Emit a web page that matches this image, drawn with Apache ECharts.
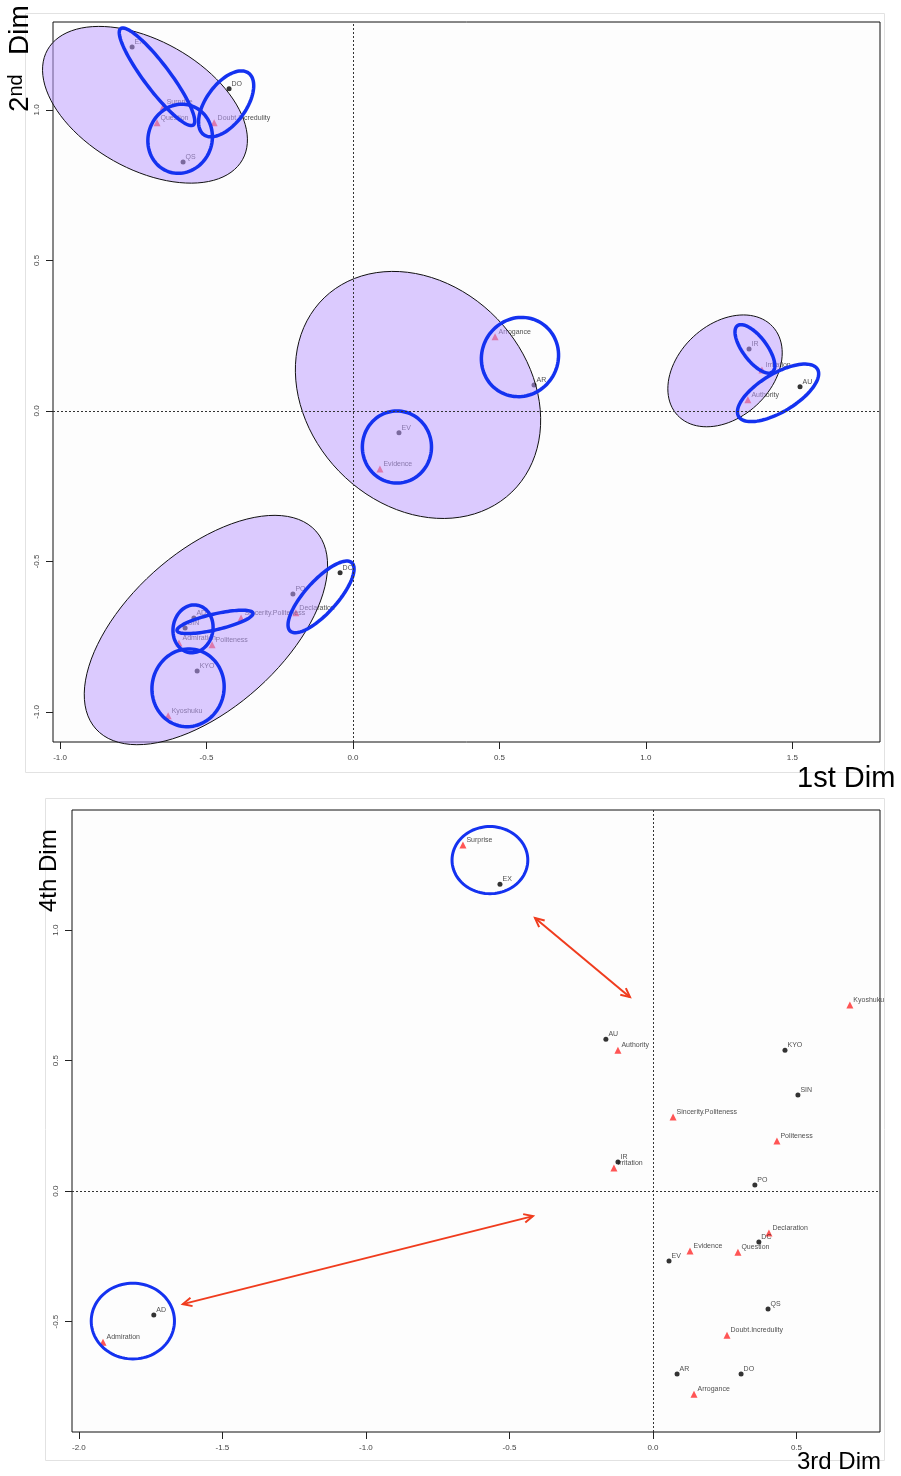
<!DOCTYPE html>
<html>
<head>
<meta charset="utf-8">
<script src="https://cdn.jsdelivr.net/npm/echarts@6/dist/echarts.min.js"></script>
<style>
html,body{margin:0;padding:0;background:#fff;}
#chart{width:901px;height:1476px;}
</style>
</head>
<body>
<div id="chart"></div>
<script>
// ---------- DATA ----------
const codes = ['EX','QS','DO','AR','EV','IR','AU','DC','PO','AD','SIN','KYO'];
const codeDim1 = [-0.754,-0.580,-0.423, 0.618, 0.157, 1.352, 1.526,-0.044,-0.205,-0.543,-0.573,-0.532];
const codeDim2 = [ 1.209, 0.827, 1.070, 0.086,-0.073, 0.206, 0.080,-0.538,-0.608,-0.688,-0.721,-0.864];
const codeDim3 = [-0.533, 0.401, 0.307, 0.084, 0.056,-0.122,-0.164, 0.369, 0.355,-1.739, 0.505, 0.460];
const codeDim4 = [ 1.176,-0.452,-0.701,-0.701,-0.268, 0.111, 0.582,-0.195, 0.023,-0.475, 0.368, 0.540];

const emotions = ['Surprise','Question','Doubt.Incredulity','Arrogance','Evidence','Irritation','Authority','Declaration','Sincerity.Politeness','Admiration','Politeness','Kyoshuku'];
const emoDim1 = [-0.648,-0.669,-0.474, 0.485, 0.092, 1.396, 1.348,-0.195,-0.382,-0.594,-0.481,-0.631];
const emoDim2 = [ 1.010, 0.957, 0.957, 0.246,-0.193, 0.136, 0.037,-0.671,-0.688,-0.771,-0.777,-1.013];
const emoDim3 = [-0.662, 0.296, 0.258, 0.143, 0.129,-0.136,-0.122, 0.404, 0.070,-1.916, 0.432, 0.686];
const emoDim4 = [ 1.326,-0.234,-0.552,-0.778,-0.230, 0.088, 0.540,-0.161, 0.284,-0.579, 0.192, 0.713];

const tickDim1 = [-1.0,-0.5,0.0,0.5,1.0,1.5];
const tickDim2 = [-1.0,-0.5,0.0,0.5,1.0];
const tickDim3 = [-2.0,-1.5,-1.0,-0.5,0.0,0.5];
const tickDim4 = [-0.5,0.0,0.5,1.0];

// cluster ellipses (Dim1/Dim2): [centerX, centerY, semiMajor, semiMinor, angleDeg]
const clusterEllipses = [
  [-0.710, 1.017, 0.382, 0.219, -29.4],
  [ 0.222, 0.053, 0.461, 0.375, -46],
  [ 1.270, 0.133, 0.222, 0.159, 43],
  [-0.502,-0.728, 0.505, 0.266, 42]
];
// pair ellipses (Dim1/Dim2)
const pairEllipses12 = [
  [-0.669, 1.110, 0.206, 0.044, -53],
  [-0.433, 1.020, 0.130, 0.068, 54],
  [-0.590, 0.904, 0.119, 0.109, 70],
  [ 0.570, 0.179, 0.137, 0.130, 60],
  [ 0.150,-0.120, 0.123, 0.118, 90],
  [ 1.372, 0.206, 0.099, 0.041, -53],
  [ 1.451, 0.060, 0.157, 0.065, 31],
  [-0.109,-0.618, 0.157, 0.055, 48],
  [-0.546,-0.724, 0.082, 0.068, 80],
  [-0.471,-0.701, 0.133, 0.027, 13],
  [-0.563,-0.920, 0.133, 0.123, 80]
];
// pair ellipses (Dim3/Dim4)
const pairEllipses34 = [
  [-0.568, 1.268, 0.132, 0.117, 0],
  [-1.812,-0.498, 0.145, 0.132, 0]
];
// double arrows (Dim3/Dim4): [x1, y1, x2, y2]
const arrows34 = [
  [-0.411, 1.046, -0.080, 0.743],
  [-1.638,-0.433, -0.418,-0.096]
];

// ---------- CHART ----------
const chart = echarts.init(document.getElementById('chart'), null, {renderer:'canvas'});
const FONT = 'Liberation Sans, Arial, sans-serif';

function pts(names, xs, ys){ return names.map((n,i)=>({name:n, value:[xs[i], ys[i]]})); }

function ellipseRenderer(fill, stroke, lw){
  return function(params, api){
    const c = api.coord([api.value(0), api.value(1)]);
    const s = api.size([1,1]);
    const a = api.value(2)*s[0], b = api.value(3)*s[0];
    const ang = api.value(4)*Math.PI/180;
    const points = [];
    for(let k=0;k<=96;k++){
      const t = k/96*2*Math.PI;
      const u = a*Math.cos(t), v = b*Math.sin(t);
      points.push([c[0] + u*Math.cos(ang) - v*Math.sin(ang), c[1] - (u*Math.sin(ang) + v*Math.cos(ang))]);
    }
    return {type:'polygon', shape:{points:points}, style:{fill:fill, stroke:stroke, lineWidth:lw}};
  };
}

function arrowRenderer(params, api){
  const p1 = api.coord([api.value(0), api.value(1)]);
  const p2 = api.coord([api.value(2), api.value(3)]);
  const ang = Math.atan2(p2[1]-p1[1], p2[0]-p1[0]);
  const L = 10, phi = Math.PI/7;
  function head(p, a){
    return [[p[0]+L*Math.cos(a+Math.PI-phi), p[1]+L*Math.sin(a+Math.PI-phi)], p,
            [p[0]+L*Math.cos(a+Math.PI+phi), p[1]+L*Math.sin(a+Math.PI+phi)]];
  }
  const st = {stroke:'#f03c1e', lineWidth:2, fill:null};
  return {type:'group', children:[
    {type:'line', shape:{x1:p1[0],y1:p1[1],x2:p2[0],y2:p2[1]}, style:st},
    {type:'polyline', shape:{points:head(p2, ang)}, style:st},
    {type:'polyline', shape:{points:head(p1, ang+Math.PI)}, style:st}
  ]};
}

const labelStyle = {show:true, formatter:'{b}', position:'right', distance:0, offset:[0,-5], fontSize:7, fontFamily:FONT, color:'#222'};
const zeroLines = {silent:true, symbol:'none', label:{show:false}, lineStyle:{color:'#333', type:[2,2], width:1}, data:[{xAxis:0},{yAxis:0}]};

function valueAxis(gi, min, max, ticks, isY){
  return {
    type:'value', gridIndex:gi, min:min, max:max,
    axisLine:{show:false, onZero:false}, splitLine:{show:false},
    axisTick:{show:true, inside:false, length:7, customValues:ticks, lineStyle:{color:'#222'}},
    axisLabel:{show:true, customValues:ticks, fontSize:8, fontFamily:FONT, color:'#444', margin:isY?12:12, rotate:isY?90:0,
      formatter:v=>v.toFixed(1)}
  };
}

const option = {
  animation:false,
  backgroundColor:'#fff',
  grid:[
    {left:53, top:22, width:827, height:720, show:true, borderColor:'#111', borderWidth:1, backgroundColor:'#fdfdfd'},
    {left:72, top:810, width:808, height:622, show:true, borderColor:'#111', borderWidth:1, backgroundColor:'#fdfdfd'}
  ],
  xAxis:[ valueAxis(0,-1.024,1.799,tickDim1,false), valueAxis(1,-2.024,0.791,tickDim3,false) ],
  yAxis:[ valueAxis(0,-1.100,1.292,tickDim2,true), valueAxis(1,-0.923,1.460,tickDim4,true) ],
  series:[
    {type:'scatter', xAxisIndex:0, yAxisIndex:0, z:2, symbol:'circle', symbolSize:5, itemStyle:{color:'#000'},
     data:pts(codes, codeDim1, codeDim2), label:labelStyle, markLine:zeroLines},
    {type:'scatter', xAxisIndex:0, yAxisIndex:0, z:2, symbol:'triangle', symbolSize:7, itemStyle:{color:'#ff2a2a'},
     data:pts(emotions, emoDim1, emoDim2), label:labelStyle},
    {type:'custom', xAxisIndex:0, yAxisIndex:0, z:3, clip:false, renderItem:ellipseRenderer('rgba(188,156,255,0.52)','#111',1),
     data:clusterEllipses, encode:{x:0,y:1}},
    {type:'custom', xAxisIndex:0, yAxisIndex:0, z:4, clip:false, renderItem:ellipseRenderer(null,'#1432f0',3.5),
     data:pairEllipses12, encode:{x:0,y:1}},

    {type:'scatter', xAxisIndex:1, yAxisIndex:1, z:2, symbol:'circle', symbolSize:5, itemStyle:{color:'#000'},
     data:pts(codes, codeDim3, codeDim4), label:labelStyle, markLine:zeroLines},
    {type:'scatter', xAxisIndex:1, yAxisIndex:1, z:2, symbol:'triangle', symbolSize:7, itemStyle:{color:'#ff2a2a'},
     data:pts(emotions, emoDim3, emoDim4), label:labelStyle},
    {type:'custom', xAxisIndex:1, yAxisIndex:1, z:4, clip:false, renderItem:ellipseRenderer(null,'#1432f0',3),
     data:pairEllipses34, encode:{x:0,y:1}},
    {type:'custom', xAxisIndex:1, yAxisIndex:1, z:4, clip:false, renderItem:arrowRenderer,
     data:arrows34, encode:{x:[0,2], y:[1,3]}}
  ],
  graphic:[
    {type:'rect', silent:true, z:-10, shape:{x:25.5,y:13.5,width:859,height:759}, style:{fill:null, stroke:'#e2e2e2', lineWidth:1}},
    {type:'rect', silent:true, z:-10, shape:{x:45.5,y:798.5,width:839,height:662}, style:{fill:null, stroke:'#e2e2e2', lineWidth:1}},
    {type:'text', left:797, top:764, style:{text:'1st Dim', font:'29px '+FONT, fill:'#000'}},
    {type:'text', left:797, top:1450, style:{text:'3rd Dim', font:'24px '+FONT, fill:'#000'}},
    {type:'group', x:34, y:112, rotation:Math.PI/2, children:[
      {type:'text', x:0, y:0, style:{text:'2', font:'28px '+FONT, fill:'#000', textVerticalAlign:'bottom'}},
      {type:'text', x:15.5, y:-8, style:{text:'nd', font:'20px '+FONT, fill:'#000', textVerticalAlign:'bottom'}},
      {type:'text', x:57, y:0, style:{text:'Dim', font:'28px '+FONT, fill:'#000', textVerticalAlign:'bottom'}}
    ]},
    {type:'group', x:61, y:912, rotation:Math.PI/2, children:[
      {type:'text', x:0, y:0, style:{text:'4th Dim', font:'24px '+FONT, fill:'#000', textVerticalAlign:'bottom'}}
    ]}
  ]
};
chart.setOption(option);
</script>
</body>
</html>
